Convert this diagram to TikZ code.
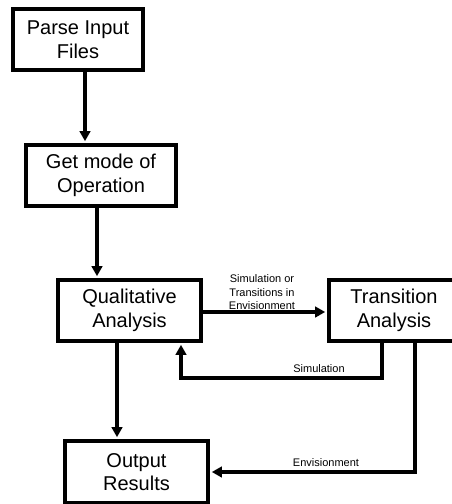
\documentclass[tikz,border=0pt]{standalone}
\usepackage{fontspec}
\setmainfont{Liberation Sans}
\usetikzlibrary{arrows.meta,calc}
\begin{document}
\begin{tikzpicture}[x=1pt,y=-1pt,
  box/.style={draw,line width=3.8pt,inner sep=0pt,align=center,
    font=\fontsize{20}{23.5}\selectfont},
  arr/.style={line width=3.6pt,shorten >=1.9pt,-{Triangle[length=10pt,width=10.5pt]}},
  lbl/.style={font=\fontsize{11}{13.5}\selectfont,align=center,inner sep=0pt}]
\useasboundingbox (0,0) rectangle (451,504);
\node[box,minimum width=130pt,minimum height=61pt] (b1) at (78,39.5) {Parse Input\\Files};
\node[box,minimum width=150pt,minimum height=61pt] (b2) at (101,175.5) {Get mode of\\Operation};
\node[box,minimum width=143pt,minimum height=61pt] (b3) at (129.5,310.5) {Qualitative\\Analysis};
\node[box,minimum width=130pt,minimum height=61pt] (b4) at (394,310.5) {Transition\\Analysis};
\node[box,minimum width=143pt,minimum height=62pt] (b5) at (136.5,472) {Output\\Results};
\draw[arr] ([xshift=7pt]b1.south) -- ([xshift=7pt]b1.south |- b2.north);
\draw[arr] ([xshift=-4pt]b2.south) -- ([xshift=-4pt]b2.south |- b3.north);
\draw[arr] ([yshift=-1.5pt]b3.east) -- ([yshift=-1.5pt]b4.west);
\node[lbl] (l1) at (262,292.5) {Simulation or\\Transitions in\\Envisionment};
\draw[arr] ([xshift=-12pt]b4.south) -- ++(0,35) coordinate (c1) -| ([xshift=51.5pt]b3.south);
\node[lbl] (l2) at (319,369) {Simulation};
\draw[arr] ([xshift=21pt]b4.south) |- (b5.east);
\node[lbl] (l3) at (326,463) {Envisionment};
\draw[arr] ([xshift=-12.5pt]b3.south) -- ([xshift=-12.5pt]b3.south |- b5.north);
\end{tikzpicture}
\end{document}
